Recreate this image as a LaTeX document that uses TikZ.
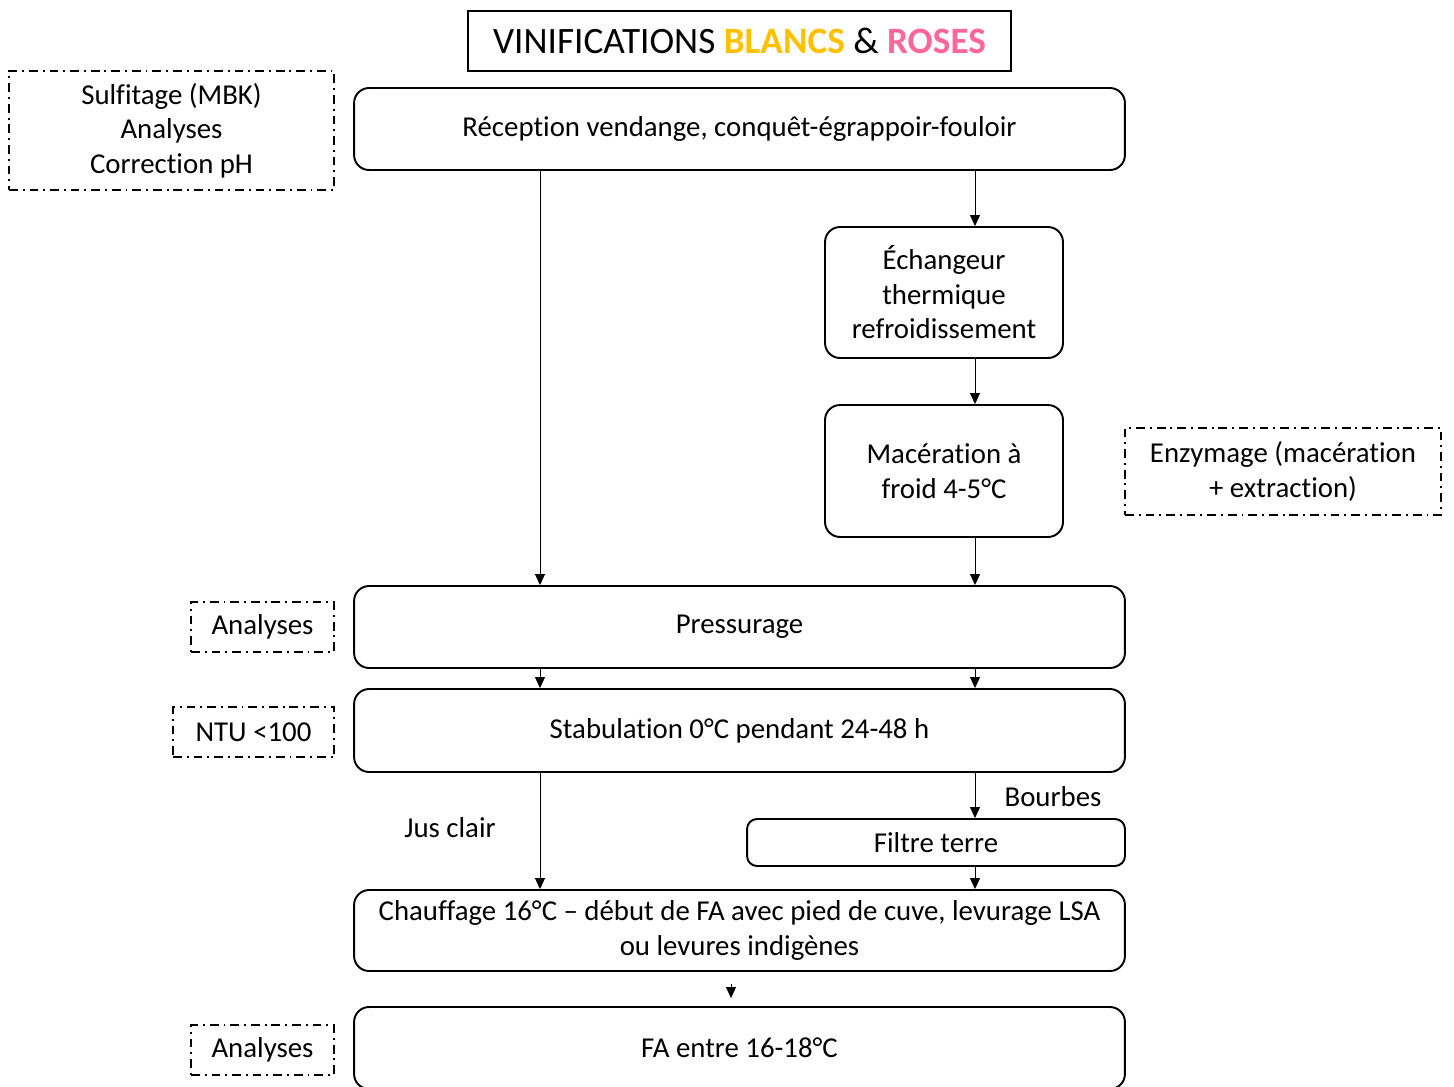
\documentclass[tikz,border=0pt]{standalone}
\usepackage{fontspec}
\setmainfont[Ligatures=CommonOff]{Carlito}
\usetikzlibrary{arrows.meta}
\definecolor{vinyellow}{RGB}{255,192,0}
\definecolor{vinpink}{RGB}{255,102,153}
\newcommand{\vinfont}{\fontsize{16.4}{19.6}\selectfont}
\newcommand{\vintitlefont}{\fontsize{21.2}{25}\selectfont}

\begin{document}
\begin{tikzpicture}[x=0.02cm, y=-0.02cm,
  stepbox/.style={draw, line width=1.1pt, rounded corners=0.3cm, align=center, font=\vinfont, inner sep=0pt},
  notebox/.style={draw, line width=0.8pt, dash pattern=on 5pt off 2.8pt on 1.1pt off 2.8pt,
                  align=center, font=\vinfont, inner sep=0pt},
  arr/.style={-{Triangle[width=0.2cm,length=0.22cm]}, line width=0.5pt}]
\useasboundingbox (0,0) rectangle (1454,1086);
% Title
\node[draw, line width=0.9pt, minimum width=10.86cm, minimum height=1.2cm, font=\vintitlefont]
  (title) at (739.5,41) {VINIFICATIONS \textcolor{vinyellow}{\bfseries BLANCS} \& \textcolor{vinpink}{\bfseries ROSES}};
% Main steps
\node[stepbox, minimum width=15.42cm, minimum height=1.64cm] (recep) at (739.5,129)
  {Réception vendange, conquêt-égrappoir-fouloir};
\node[stepbox, minimum width=4.76cm, minimum height=2.62cm] (echan) at (944,292.5)
  {Échangeur\\thermique\\refroidissement};
\node[stepbox, minimum width=4.76cm, minimum height=2.64cm] (mace) at (944,471)
  {Macération à\\froid 4-5°C};
\node[stepbox, minimum width=15.42cm, minimum height=1.64cm] (press) at (739.5,627) {Pressurage};
\node[stepbox, minimum width=15.42cm, minimum height=1.66cm] (stab) at (739.5,730.5)
  {Stabulation 0°C pendant 24-48 h};
\node[stepbox, rounded corners=0.2cm, minimum width=7.56cm, minimum height=0.94cm] (filtre) at (936,842.5)
  {Filtre terre};
\node[stepbox, minimum width=15.42cm, minimum height=1.62cm] (chauf) at (739.5,930.5)
  {Chauffage 16°C – début de FA avec pied de cuve, levurage LSA\\ou levures indigènes};
\node[stepbox, minimum width=15.42cm, minimum height=1.64cm] (fa) at (739.5,1048)
  {FA entre 16-18°C};
% Side notes
\node[notebox, minimum width=6.5cm, minimum height=2.38cm] (sulf) at (171.5,130.5)
  {Sulfitage (MBK)\\Analyses\\Correction pH};
\node[notebox, minimum width=6.32cm, minimum height=1.74cm] (enzy) at (1283,471.5)
  {Enzymage (macération\\+ extraction)};
\node[notebox, minimum width=2.86cm, minimum height=1cm] (ana1) at (262.5,627) {Analyses};
\node[notebox, minimum width=3.22cm, minimum height=1cm] (ntu) at (253.5,732) {NTU <100};
\node[notebox, minimum width=2.86cm, minimum height=1cm] (ana2) at (262.5,1050) {Analyses};
% Flow labels
\node[font=\vinfont] (jus) at (450,828) {Jus clair};
\node[font=\vinfont] (bourbes) at (1053,797) {Bourbes};
% Arrows
\coordinate (lx) at (540,0);
\coordinate (rx) at (975,0);
\coordinate (mx) at (731,0);
\draw[arr] (recep.south -| lx) -- (press.north -| lx);
\draw[arr] (recep.south -| rx) -- (echan.north -| rx);
\draw[arr] (echan.south -| rx) -- (mace.north -| rx);
\draw[arr] (mace.south -| rx) -- (press.north -| rx);
\foreach \c in {lx,rx} {
  \draw[arr] (press.south -| \c) -- (stab.north -| \c);
}
\draw[arr] (stab.south -| lx) -- (chauf.north -| lx);
\draw[arr] (stab.south -| rx) -- (filtre.north -| rx);
\draw[arr] (filtre.south -| rx) -- (chauf.north -| rx);
\draw[arr, shorten <=0.24cm, shorten >=0.16cm] (chauf.south -| mx) -- (fa.north -| mx);
\end{tikzpicture}
\end{document}
